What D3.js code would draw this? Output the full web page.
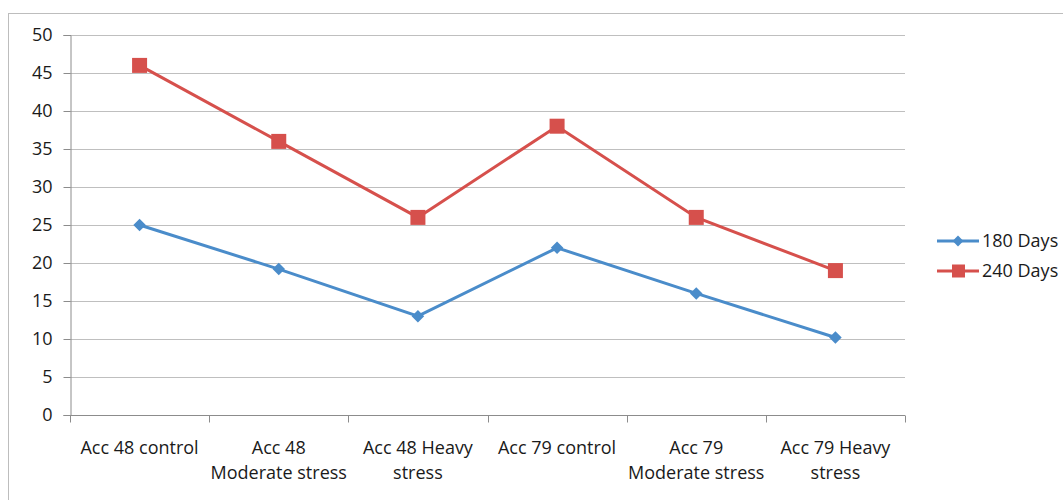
<!DOCTYPE html>
<html>
<head>
<meta charset="utf-8">
<script src="https://cdn.jsdelivr.net/npm/d3@7"></script>
<style>
  body { margin: 0; background: #fff; }
  text { font-family: "Open Sans", "Noto Sans", sans-serif; fill: #1a1a1a; }
</style>
</head>
<body>
<div id="chart"></div>
<script>
// data
const categories = [
    ["Acc 48 control"],
    ["Acc 48", "Moderate stress"],
    ["Acc 48 Heavy", "stress"],
    ["Acc 79 control"],
    ["Acc 79", "Moderate stress"],
    ["Acc 79 Heavy", "stress"]
];
const days180 = [25, 19.2, 13, 22, 16, 10.2];
const days240 = [46, 36, 26, 38, 26, 19];
const seriesNames = ["180 Days", "240 Days"];
const yTicks = [0, 5, 10, 15, 20, 25, 30, 35, 40, 45, 50];

const width = 1063, height = 500;
const margin = { top: 35, right: 158, bottom: 85, left: 70 };
const innerW = width - margin.left - margin.right;
const innerH = height - margin.top - margin.bottom;

const blue = "#4a8cca";
const red = "#d6504c";
const fontSize = "18px";

const svg = d3.select("#chart").append("svg")
    .attr("width", width)
    .attr("height", height);

// outer frame
svg.append("rect")
    .attr("x", 8.5).attr("y", 13.5)
    .attr("width", width).attr("height", height)
    .attr("fill", "none")
    .attr("stroke", "#bdbdbd");

const g = svg.append("g")
    .attr("transform", `translate(${margin.left},${margin.top})`);

const keys = categories.map((c, i) => i);
const x = d3.scaleBand().domain(keys).range([0, innerW]);
const y = d3.scaleLinear().domain([0, 50]).range([innerH, 0]);

// gridlines
g.append("g")
    .selectAll("line")
    .data(yTicks.filter(d => d > 0))
    .enter().append("line")
    .attr("x1", 0).attr("x2", innerW)
    .attr("y1", d => y(d) + 0.5).attr("y2", d => y(d) + 0.5)
    .attr("stroke", "#bfbfbf");

// y axis
const yAxis = g.append("g")
    .attr("transform", "translate(0.5,0)")
    .call(d3.axisLeft(y).tickValues(yTicks).tickSize(7).tickPadding(11));
yAxis.select(".domain").attr("stroke", "#8c8c8c");
yAxis.selectAll(".tick line").attr("stroke", "#8c8c8c");
yAxis.selectAll("text").style("font-size", fontSize).attr("fill", "#1a1a1a");

// x axis
const xAxis = g.append("g")
    .attr("transform", `translate(0,${innerH + 0.5})`);
xAxis.append("line")
    .attr("x1", 0).attr("x2", innerW)
    .attr("stroke", "#8c8c8c");
xAxis.selectAll(".xtick")
    .data(d3.range(keys.length + 1))
    .enter().append("line")
    .attr("x1", d => Math.round(d * x.bandwidth()) + 0.5)
    .attr("x2", d => Math.round(d * x.bandwidth()) + 0.5)
    .attr("y1", 0).attr("y2", 7)
    .attr("stroke", "#8c8c8c");
const labels = xAxis.selectAll(".xlab")
    .data(categories)
    .enter().append("text")
    .attr("text-anchor", "middle")
    .attr("x", (d, i) => x(i) + x.bandwidth() / 2)
    .attr("y", 38)
    .style("font-size", fontSize);
labels.selectAll("tspan")
    .data(d => d)
    .enter().append("tspan")
    .attr("x", function() { return this.parentNode.getAttribute("x"); })
    .attr("dy", (d, i) => i === 0 ? 0 : 25)
    .text(d => d);

// lines
const cx = i => x(i) + x.bandwidth() / 2;
const line = d3.line()
    .x((d, i) => cx(i))
    .y(d => y(d));

g.append("path")
    .datum(days180)
    .attr("d", line)
    .attr("fill", "none")
    .attr("stroke", blue)
    .attr("stroke-width", 3);

g.append("path")
    .datum(days240)
    .attr("d", line)
    .attr("fill", "none")
    .attr("stroke", red)
    .attr("stroke-width", 3);

// markers
const diamond = d3.symbol().type(d3.symbolDiamond2).size(100);
g.selectAll(".m180")
    .data(days180)
    .enter().append("path")
    .attr("d", diamond)
    .attr("transform", (d, i) => `translate(${cx(i)},${y(d)})`)
    .attr("fill", blue);

g.selectAll(".m240")
    .data(days240)
    .enter().append("rect")
    .attr("x", (d, i) => cx(i) - 7.5)
    .attr("y", d => y(d) - 7.5)
    .attr("width", 15).attr("height", 15)
    .attr("fill", red);

// legend
const legend = svg.append("g").attr("transform", "translate(937,241)");
const colors = [blue, red];
seriesNames.forEach((name, i) => {
    const row = legend.append("g").attr("transform", `translate(0,${i * 30})`);
    row.append("line")
        .attr("x1", 0).attr("x2", 42)
        .attr("stroke", colors[i]).attr("stroke-width", 3);
    if (i === 0) {
        row.append("path")
            .attr("d", d3.symbol().type(d3.symbolDiamond2).size(75))
            .attr("transform", "translate(21,0)")
            .attr("fill", colors[i]);
    } else {
        row.append("rect")
            .attr("x", 15).attr("y", -6.5)
            .attr("width", 13).attr("height", 13)
            .attr("fill", colors[i]);
    }
    row.append("text")
        .attr("x", 45).attr("y", 0)
        .attr("dy", "0.35em")
        .style("font-size", fontSize)
        .text(name);
});
</script>
</body>
</html>
